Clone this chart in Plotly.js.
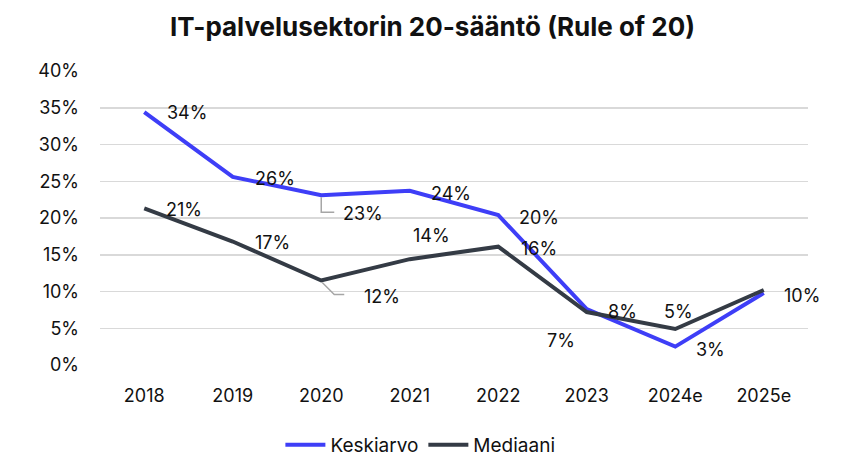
<!DOCTYPE html>
<html>
<head>
<meta charset="utf-8">
<script src="https://cdn.plot.ly/plotly-3.0.1.min.js"></script>
<style>html,body{margin:0;padding:0;background:#fff;}#chart{width:865px;height:474px;}</style>
</head>
<body>
<div id="chart"></div>
<script>
var categories = ['2018', '2019', '2020', '2021', '2022', '2023', '2024e', '2025e'];
var keskiarvo = [34.4, 25.6, 23.1, 23.7, 20.4, 7.6, 2.5, 9.8];
var mediaani = [21.3, 16.8, 11.5, 14.4, 16.1, 7.2, 4.9, 10.2];
var yTickVals = [0, 5, 10, 15, 20, 25, 30, 35, 40];
var yTickText = ['0%', '5%', '10%', '15%', '20%', '25%', '30%', '35%', '40%'];

var FONT = 'Inter, "Liberation Sans", Arial, sans-serif';
var BLUE = '#3e3ef7';
var DARK = '#343b45';

// label placement (pixel shifts): [xshift, yshift, xanchor, show]
var kPos = [[21,0,'left',1],[20,-2,'left',1],[20,-18,'left',1],[19,-3,'left',1],[19,-2,'left',1],[19,-2,'left',1],[19,-3,'left',1],[18,-3,'left',1]];
var mPos = [[20,-1,'left',1],[20,-1,'left',1],[41,-16,'left',1],[1,24,'left',1],[21,-2,'left',1],[-10,-28,'right',1],[-13,17,'left',1],[18,-3,'left',0]];

var annotations = [];
function addLabels(vals, pos) {
  vals.forEach(function (v, i) {
    if (!pos[i][3]) return;
    annotations.push({
      x: i, y: v, xref: 'x', yref: 'y',
      text: Math.round(v) + '%', showarrow: false,
      xanchor: pos[i][2], yanchor: 'middle',
      xshift: pos[i][0], yshift: pos[i][1],
      font: {family: FONT, size: 18, color: '#111'}
    });
  });
}
addLabels(keskiarvo, kPos);
addLabels(mediaani, mPos);

var idx2020 = categories.indexOf('2020');
var shapes = [
  {type: 'path', xref: 'x', yref: 'y', xsizemode: 'pixel', ysizemode: 'pixel',
   xanchor: idx2020, yanchor: keskiarvo[idx2020], path: 'M0,-2 V-17 H13',
   line: {color: '#a6a6a6', width: 1.5}},
  {type: 'path', xref: 'x', yref: 'y', xsizemode: 'pixel', ysizemode: 'pixel',
   xanchor: idx2020, yanchor: mediaani[idx2020], path: 'M1,-2 L13,-14 H23',
   line: {color: '#a6a6a6', width: 1.5}}
];

var traces = [
  {x: categories, y: keskiarvo, name: 'Keskiarvo', type: 'scatter', mode: 'lines',
   line: {color: BLUE, width: 4}},
  {x: categories, y: mediaani, name: 'Mediaani', type: 'scatter', mode: 'lines',
   line: {color: DARK, width: 4}}
];

var layout = {
  width: 865, height: 474,
  margin: {l: 100, r: 57, t: 70.7, b: 108.7},
  paper_bgcolor: '#fff', plot_bgcolor: '#fff',
  font: {family: FONT, size: 18, color: '#111'},
  title: {text: '<b>IT-palvelusektorin 20-sääntö (Rule of 20)</b>', x: 0.5, xref: 'container', xanchor: 'center',
          y: 1 - 27 / 474, yref: 'container', yanchor: 'middle',
          font: {family: FONT, size: 26, color: '#111', weight: 800}},
  xaxis: {type: 'category', categoryarray: categories, range: [-0.5, categories.length - 0.5], autorange: false,
          showgrid: false, zeroline: false, showline: false, ticks: '',
          ticklabelstandoff: 18, tickfont: {family: FONT, size: 18, color: '#111'}},
  yaxis: {range: [0, 40], autorange: false, tickvals: yTickVals, ticktext: yTickText, showgrid: true,
          gridcolor: '#d9d9d9', gridwidth: 1.5, zeroline: false, showline: false, ticks: '',
          ticklabelstandoff: 20, tickfont: {family: FONT, size: 18, color: '#111'}},
  showlegend: true,
  legend: {orientation: 'h', xref: 'container', yref: 'container', x: 0.486, xanchor: 'center',
           y: (474 - 445) / 474, yanchor: 'middle', font: {family: FONT, size: 19, color: '#111'},
           itemwidth: 40, tracegroupgap: 0},
  annotations: annotations,
  shapes: shapes
};

Plotly.newPlot('chart', traces, layout, {displayModeBar: false, staticPlot: true});
</script>
</body>
</html>
